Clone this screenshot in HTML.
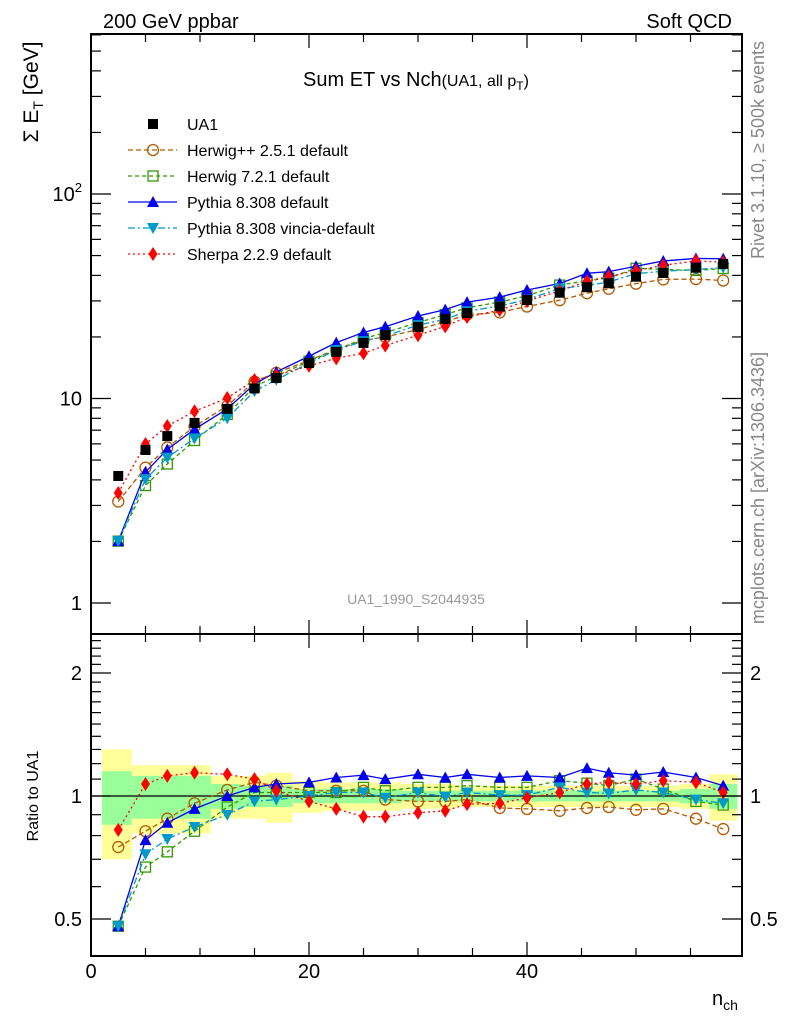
<!DOCTYPE html>
<html><head><meta charset="utf-8"><style>
body{margin:0;background:#fff;}
svg{display:block;font-family:"Liberation Sans",sans-serif;}
</style></head><body>
<svg id="chart" width="786" height="1024" viewBox="0 0 786 1024" xmlns="http://www.w3.org/2000/svg">
<text x="103" y="28" font-size="20">200 GeV ppbar</text>
<text x="732" y="28" font-size="20" text-anchor="end">Soft QCD</text>
<text x="416" y="86" font-size="20" text-anchor="middle">Sum ET vs Nch<tspan font-size="16">(UA1, all p</tspan><tspan font-size="12" dy="4">T</tspan><tspan font-size="16" dy="-4">)</tspan></text>
<text transform="translate(38,92) rotate(-90)" font-size="21" text-anchor="middle">Σ E<tspan font-size="14" dy="5">T</tspan><tspan dy="-5"> [GeV]</tspan></text>
<text transform="translate(38,796) rotate(-90)" font-size="16" text-anchor="middle">Ratio to UA1</text>
<text x="712" y="1005" font-size="20">n<tspan font-size="14" dy="5">ch</tspan></text>
<text transform="translate(764,150) rotate(-90)" font-size="18" fill="#888" text-anchor="middle">Rivet 3.1.10, ≥ 500k events</text>
<text transform="translate(764,488) rotate(-90)" font-size="18" fill="#888" text-anchor="middle">mcplots.cern.ch [arXiv:1306.3436]</text>
<text x="416" y="604" font-size="14" fill="#999" text-anchor="middle">UA1_1990_S2044935</text>
<g id="bands"></g><g id="series"></g><g id="axes"></g><g id="legend"></g>
</svg>
<script>
const nch = [2.5,5,7,9.5,12.5,15,17,20,22.5,25,27,30,32.5,34.5,37.5,40,43,45.5,47.5,50,52.5,55.5,58];
const ua1 = [4.18,5.6,6.55,7.6,8.9,11.2,12.6,14.9,16.9,18.7,20.4,22.4,24.5,26.2,28.2,30.3,32.9,35.0,36.6,39.4,41.1,43.6,45.5];
const ratioHerwigpp = [0.75,0.82,0.88,0.96,1.035,1.08,1.06,1.03,1.03,1.03,0.98,0.97,0.97,0.98,0.935,0.93,0.92,0.935,0.94,0.925,0.93,0.88,0.83];
const ratioHerwig7 = [0.48,0.67,0.73,0.82,0.94,1.02,1.02,1.02,1.02,1.05,1.03,1.05,1.05,1.06,1.05,1.05,1.09,1.075,1.06,1.10,1.04,0.97,0.95];
const ratioPythia = [0.48,0.78,0.86,0.93,1.0,1.05,1.07,1.08,1.11,1.125,1.10,1.13,1.11,1.13,1.11,1.12,1.11,1.17,1.14,1.125,1.145,1.11,1.06];
const ratioVincia = [0.48,0.72,0.785,0.84,0.90,0.97,0.98,1.0,1.02,1.02,0.99,1.02,0.995,1.02,1.005,1.005,1.05,1.02,1.015,1.035,1.02,0.98,0.96];
const ratioSherpa = [0.826,1.07,1.12,1.14,1.13,1.10,1.03,0.97,0.93,0.89,0.89,0.91,0.92,0.955,0.96,0.99,1.02,1.07,1.08,1.07,1.09,1.08,1.02];
const totUnc = [0.30,0.19,0.19,0.19,0.12,0.12,0.14,0.09,0.08,0.08,0.08,0.07,0.07,0.06,0.06,0.06,0.06,0.06,0.06,0.06,0.06,0.07,0.13];
const statUnc = [0.15,0.12,0.12,0.12,0.07,0.06,0.06,0.04,0.04,0.04,0.04,0.03,0.03,0.03,0.03,0.03,0.03,0.03,0.03,0.03,0.03,0.04,0.07];
const xTicks = [0,20,40];

const NS="http://www.w3.org/2000/svg";
const L=91,R=742,MT=34,MB=634,RT=634,RB=956;
const X=v=>L+v*10.9;
const YM=v=>603-Math.log10(v)*204.5;
const YR=v=>796-Math.log10(v)*408.6;
function mk(tag,attrs,parent){const e=document.createElementNS(NS,tag);for(const k in attrs)e.setAttribute(k,attrs[k]);parent.appendChild(e);return e;}
const gB=document.getElementById('bands'),gS=document.getElementById('series'),gA=document.getElementById('axes'),gL=document.getElementById('legend');

const edges=[1];
for(let i=0;i<nch.length-1;i++)edges.push((nch[i]+nch[i+1])/2);
edges.push(nch[nch.length-1]+1.3);
for(let i=0;i<nch.length;i++){
  let r=mk('rect',{x:X(edges[i]),y:YR(1+totUnc[i]),width:X(edges[i+1])-X(edges[i]),height:YR(1-totUnc[i])-YR(1+totUnc[i]),fill:'#ffff99'},gB);
  
  
}
for(let i=0;i<nch.length;i++){
  let r=mk('rect',{x:X(edges[i]),y:YR(1+statUnc[i]),width:X(edges[i+1])-X(edges[i]),height:YR(1-statUnc[i])-YR(1+statUnc[i]),fill:'#99ff99'},gB);
  
  
}
let one=mk('line',{x1:L,x2:R,y1:YR(1),y2:YR(1),stroke:'#000','stroke-width':1.2},gB);



function marker(shape,x,y,color,parent){
  let s=5;let e;
  if(shape==='sq')e=mk('rect',{x:x-s,y:y-s,width:2*s,height:2*s,fill:'#000'},parent);
  else if(shape==='circ')e=mk('circle',{cx:x,cy:y,r:5.5,fill:'none',stroke:color,'stroke-width':1.3},parent);
  else if(shape==='osq')e=mk('rect',{x:x-5,y:y-5,width:10,height:10,fill:'none',stroke:color,'stroke-width':1.3},parent);
  else if(shape==='tri')e=mk('polygon',{points:`${x},${y-6} ${x-6},${y+5} ${x+6},${y+5}`,fill:color},parent);
  else if(shape==='itri')e=mk('polygon',{points:`${x},${y+6} ${x-6},${y-5} ${x+6},${y-5}`,fill:color},parent);
  else if(shape==='dia')e=mk('polygon',{points:`${x},${y-7} ${x-4.5},${y} ${x},${y+7} ${x+4.5},${y}`,fill:color},parent);
  return e;
}
const series=[
 {name:'herwigpp',label:'Herwig++ 2.5.1 default',r:ratioHerwigpp,color:'#b35900',dash:'5,3',shape:'circ'},
 {name:'herwig7',label:'Herwig 7.2.1 default',r:ratioHerwig7,color:'#339900',dash:'4,3',shape:'osq'},
 {name:'pythia',label:'Pythia 8.308 default',r:ratioPythia,color:'#0000ee',dash:'',shape:'tri'},
 {name:'vincia',label:'Pythia 8.308 vincia-default',r:ratioVincia,color:'#0099cc',dash:'7,3,2,3',shape:'itri'},
 {name:'sherpa',label:'Sherpa 2.2.9 default',r:ratioSherpa,color:'#ff0000',dash:'2,3',shape:'dia'}
];
series.forEach(s=>{
  const g=mk('g',{},gS);
  
  
  const pm=nch.map((v,i)=>X(v)+','+YM(ua1[i]*s.r[i])).join(' ');
  const pr=nch.map((v,i)=>X(v)+','+YR(s.r[i])).join(' ');
  let l1=mk('polyline',{points:pm,fill:'none',stroke:s.color,'stroke-width':1.3,'stroke-dasharray':s.dash},g);
  
  
  let l2=mk('polyline',{points:pr,fill:'none',stroke:s.color,'stroke-width':1.3,'stroke-dasharray':s.dash},g);
  
  
  nch.forEach((v,i)=>{
    let m=marker(s.shape,X(v),YM(ua1[i]*s.r[i]),s.color,g);
    
    
    let m2=marker(s.shape,X(v),YR(s.r[i]),s.color,g);
    
    
  });
});
nch.forEach((v,i)=>{
  let m=marker('sq',X(v),YM(ua1[i]),'#000',gS);
  
  
});

let f1=mk('rect',{x:L,y:MT,width:R-L,height:MB-MT,fill:'none',stroke:'#000','stroke-width':2},gA);


let f2=mk('rect',{x:L,y:RT,width:R-L,height:RB-RT,fill:'none',stroke:'#000','stroke-width':2},gA);


for(let v=0;v<=55;v+=5){
  const len=(v%20===0)?14:8,x=X(v);
  [[MT,1],[MB,-1],[RT,1],[RB,-1]].forEach(([y,d])=>{
    let t=mk('line',{x1:x,x2:x,y1:y,y2:y+d*len,stroke:'#000','stroke-width':1.2},gA);
    
    
  });
}
xTicks.forEach(v=>{
  let t=mk('text',{x:X(v),y:978,'font-size':20,'text-anchor':'middle'},gA);t.textContent=v;
  
  
});
for(let d=0;d<=2;d++)for(let k=1;k<=9;k++){
  const v=k*Math.pow(10,d),y=YM(v);if(y<MT)continue;
  const len=k===1?20:10;
  [[L,1],[R,-1]].forEach(([x,dd])=>{
    let t=mk('line',{x1:x,x2:x+dd*len,y1:y,y2:y,stroke:'#000','stroke-width':1.2},gA);
    
    
  });
}
[[1,'1'],[10,'10']].forEach(([v,s])=>{
  let t=mk('text',{x:82,y:YM(v)+7,'font-size':20,'text-anchor':'end'},gA);t.textContent=s;
  
  
});
let t100=mk('text',{x:82,y:YM(100)+7,'font-size':20,'text-anchor':'end'},gA);
t100.innerHTML='10<tspan font-size="13" dy="-9">2</tspan>';


for(let v=0.4;v<=2.5001;v+=0.1){
  const y=YR(v);if(y<RT||y>RB)continue;
  const major=Math.abs(v-0.5)<1e-6||Math.abs(v-1)<1e-6||Math.abs(v-2)<1e-6;
  const len=major?20:10;
  [[L,1],[R,-1]].forEach(([x,dd])=>{
    let t=mk('line',{x1:x,x2:x+dd*len,y1:y,y2:y,stroke:'#000','stroke-width':1.2},gA);
    
    
  });
}
[[0.5,'0.5'],[1,'1'],[2,'2']].forEach(([v,s])=>{
  let t=mk('text',{x:82,y:YR(v)+7,'font-size':20,'text-anchor':'end'},gA);t.textContent=s;
  
  
  let t2=mk('text',{x:750,y:YR(v)+7,'font-size':20},gA);t2.textContent=s;
  
  
});
const ly0=124,ldy=26;
let lu=marker('sq',153,ly0,'#000',gL);


let lut=mk('text',{x:187,y:ly0+6,'font-size':16},gL);lut.textContent='UA1';


series.forEach((s,i)=>{
  const y=ly0+ldy*(i+1);
  let l=mk('line',{x1:128,x2:177,y1:y,y2:y,stroke:s.color,'stroke-width':1.3,'stroke-dasharray':s.dash},gL);
  
  
  let m=marker(s.shape,153,y,s.color,gL);
  
  
  let t=mk('text',{x:187,y:y+6,'font-size':16},gL);t.textContent=s.label;
  
  
});
</script>
</body></html>
